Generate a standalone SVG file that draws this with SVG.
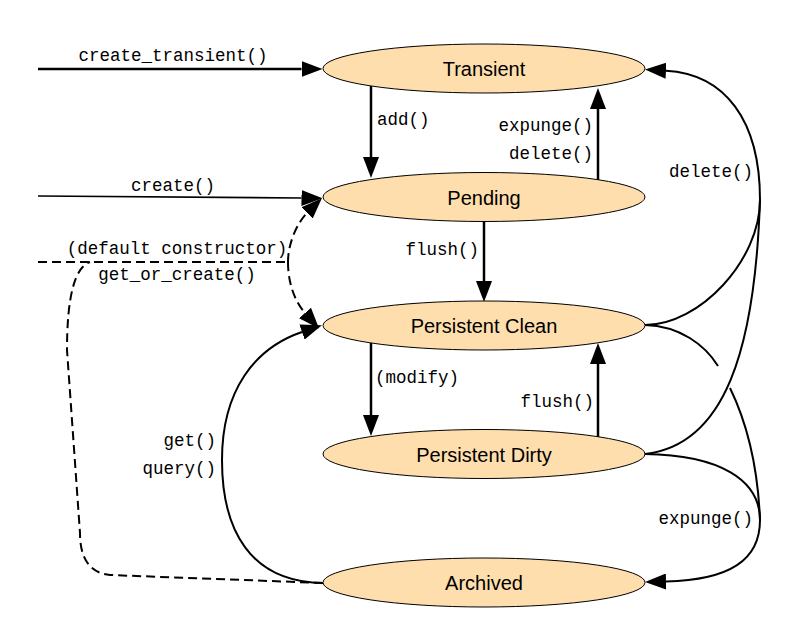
<svg xmlns="http://www.w3.org/2000/svg" width="790" height="637" viewBox="0 0 790 637">
<style>
.node ellipse{fill:#ffdead;stroke:#000;stroke-width:1}
.node text{font-family:"Liberation Sans",Arial,sans-serif;font-size:20px;text-anchor:middle;fill:#000}
.edge{fill:none;stroke:#000;stroke-width:2}
.thick{stroke-width:2.5}
.thin{stroke-width:1.6}
.dash{stroke-dasharray:9 5}
.lbl{font-family:"Liberation Mono","DejaVu Sans Mono",monospace;font-size:17.5px;fill:#000}
.end{text-anchor:end}
.mid{text-anchor:middle}
.ah{fill:#000;stroke:none}
</style>
<defs>
<marker id="arr" markerUnits="userSpaceOnUse" viewBox="0 0 21 16" refX="0" refY="8" markerWidth="21" markerHeight="16" orient="auto">
<path class="ah" d="M0,0 L21,8 L0,16 Z"/>
</marker>
</defs>
<g id="connectors">
<path class="edge thick" d="M38,69 L301.5,69" marker-end="url(#arr)"/>
<path class="edge thin" d="M38,196 L301.5,198" marker-end="url(#arr)"/>
<path class="edge dash" d="M38,262 L288,262"/>
<path class="edge dash" d="M288,262 C288,242 298,222 307,213" marker-end="url(#arr)"/>
<path class="edge dash" d="M288,262 C288,285 296,303 305,313" marker-end="url(#arr)"/>
<path class="edge dash" d="M323,583 L110,575 Q80,572 80,533 L67,350 Q67,270 90,262"/>
<path class="edge thick" d="M371,86 L371,157" marker-end="url(#arr)"/>
<path class="edge thick" d="M598,180 L598,109" marker-end="url(#arr)"/>
<path class="edge thick" d="M484,221.5 L484,281" marker-end="url(#arr)"/>
<path class="edge thick" d="M371,343 L371,415" marker-end="url(#arr)"/>
<path class="edge thick" d="M598,437 L598,364" marker-end="url(#arr)"/>
<path class="edge" d="M323,583 C250,582 222,530 222,460 C222,390 255,348 302,332" marker-end="url(#arr)"/>
<path class="edge" d="M645,325 C700,325 760,260 760,200"/>
<path class="edge" d="M645,454 C725,445 755,350 760,200"/>
<path class="edge" d="M760,200 C760,120 725,74 666,70.7" marker-end="url(#arr)"/>
<path class="edge" d="M645,325 C680,326 705,345 718,366"/>
<path class="edge" d="M730,388 C748,425 758,470 760,520"/>
<path class="edge" d="M645,454 C720,455 760,480 760,520"/>
<path class="edge" d="M760,520 C760,560 730,580 666,581.5" marker-end="url(#arr)"/>
<text class="lbl mid" x="173" y="61">create_transient()</text>
<text class="lbl mid" x="173" y="191">create()</text>
<text class="lbl mid" x="177" y="254">(default constructor)</text>
<text class="lbl mid" x="177" y="280">get_or_create()</text>
<text class="lbl" x="377" y="125">add()</text>
<text class="lbl end" x="593" y="131">expunge()</text>
<text class="lbl end" x="593" y="159">delete()</text>
<text class="lbl end" x="479" y="255">flush()</text>
<text class="lbl" x="375" y="383">(modify)</text>
<text class="lbl end" x="594" y="407">flush()</text>
<text class="lbl end" x="216" y="446">get()</text>
<text class="lbl end" x="216" y="474">query()</text>
<text class="lbl end" x="753" y="177">delete()</text>
<text class="lbl end" x="753" y="524">expunge()</text>
</g>
<g id="transient" class="node"><ellipse cx="484" cy="68.5" rx="161" ry="24.5"/><text x="484" y="76">Transient</text></g>
<g id="pending" class="node"><ellipse cx="484" cy="197" rx="161" ry="24.5"/><text x="484" y="204.5">Pending</text></g>
<g id="persistent_clean" class="node"><ellipse cx="484" cy="325.5" rx="161" ry="24.5"/><text x="484" y="333">Persistent Clean</text></g>
<g id="persistent_dirty" class="node"><ellipse cx="484" cy="454" rx="161" ry="24.5"/><text x="484" y="461.5">Persistent Dirty</text></g>
<g id="archived" class="node"><ellipse cx="484" cy="582.5" rx="161" ry="24.5"/><text x="484" y="590">Archived</text></g>
</svg>
